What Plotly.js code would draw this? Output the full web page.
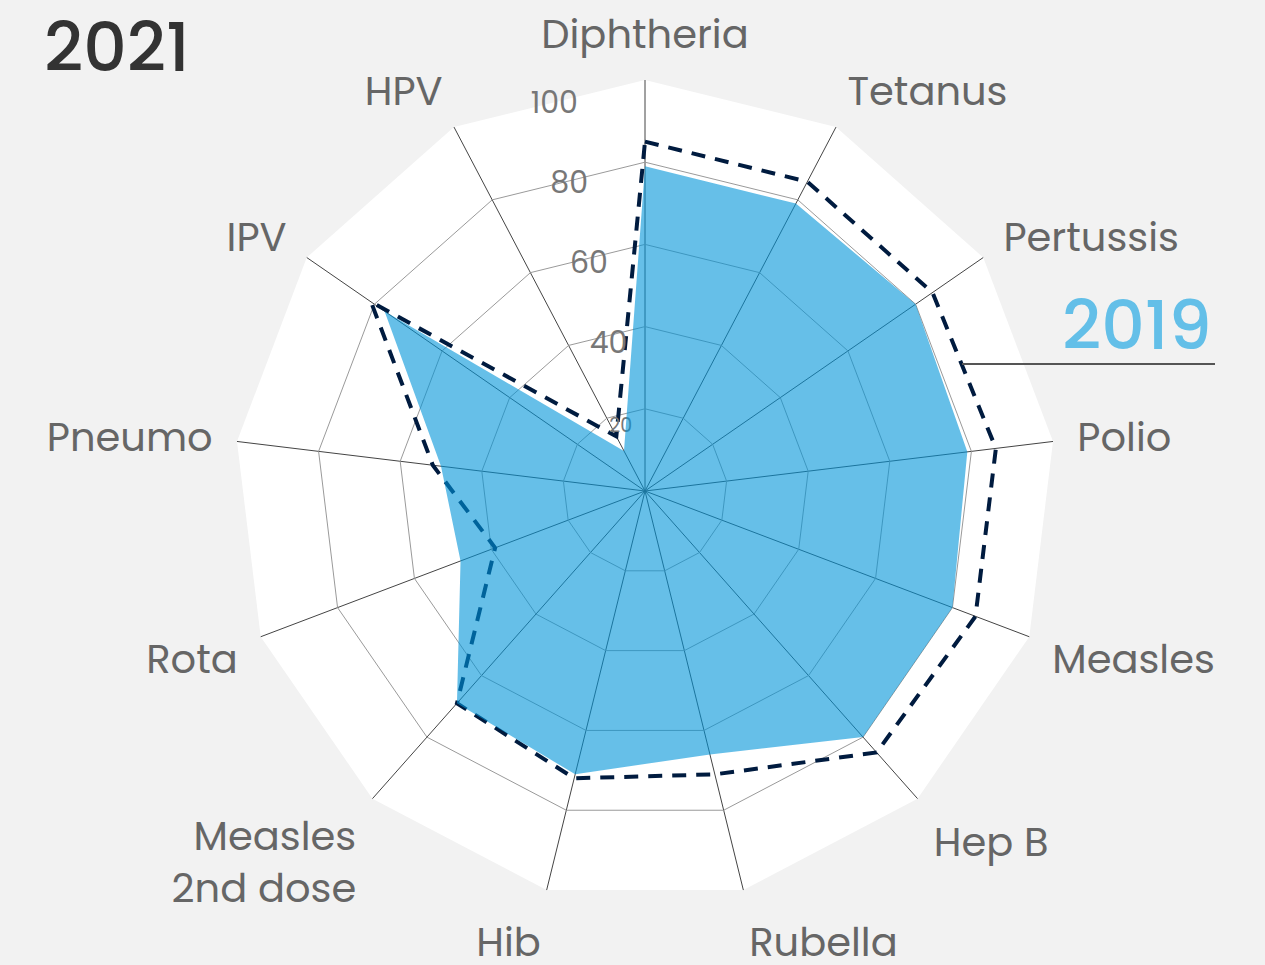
<!DOCTYPE html>
<html>
<head>
<meta charset="utf-8">
<script src="https://cdn.plot.ly/plotly-3.0.1.min.js"></script>
<style>
  html, body { margin: 0; padding: 0; background: #f2f2f2; }
  #chart { width: 1265px; height: 965px; }
</style>
</head>
<body>
<div id="chart"></div>
<script>
// ---- data ----
const categories = ['Diphtheria', 'Tetanus', 'Pertussis', 'Polio', 'Measles', 'Hep B', 'Rubella', 'Hib', 'Measles<br>2nd dose', 'Rota', 'Pneumo', 'IPV', 'HPV'];
const coverage2021 = [79, 79, 80, 79, 80, 80, 66, 71, 69, 48, 50, 77, 11];
const coverage2019 = [85, 85, 85, 86, 86, 85, 71, 72, 69, 39, 52, 81, 15];
const radialTickVals = [20, 40, 60, 80, 100];
const radialTickText = ['<span style="font-size:19px">20</span>', '40', '60', '80', '100'];
const titleText = '2021';
const compareText = '2019';

const FONT = 'Poppins, Inter, "Open Sans", sans-serif';

// closed outline for the dashed comparison series
const theta2019 = categories.concat([categories[0]]);
const r2019 = coverage2019.concat([coverage2019[0]]);

const traces = [
  { // 2019 dashed outline (main polar)
    type: 'scatterpolar', subplot: 'polar',
    r: r2019, theta: theta2019,
    mode: 'lines',
    line: { color: '#001b3f', width: 4, dash: '14px,10px' },
    hoverinfo: 'skip', showlegend: false
  },
  { // carrier for the radial tick-label layer (no visible marks)
    type: 'scatterpolar', subplot: 'polar2',
    r: coverage2021, theta: categories,
    mode: 'markers', marker: { opacity: 0, size: 1 },
    hoverinfo: 'skip', showlegend: false
  },
  { // 2021 filled area (drawn above the labels, like the reference)
    type: 'scatterpolar', subplot: 'polar3',
    r: coverage2021, theta: categories,
    mode: 'lines', fill: 'toself',
    fillcolor: 'rgba(0,148,217,0.6)',
    line: { color: 'rgba(0,0,0,0)', width: 0 },
    hoverinfo: 'skip', showlegend: false
  }
];

const W = 1265, H = 965;
const CX = 645, CY = 491, RAD = 411;
const xDom = (cx) => [(cx - RAD) / W, (cx + RAD) / W];
const yDom = (cy) => [1 - (cy + RAD) / H, 1 - (cy - RAD) / H];
const px2x = (px) => px / W;
const py2y = (py) => 1 - py / H;
const LABEL_DX = -31, LABEL_DY = 10;
const labelAngle = 103.85;

const hiddenAngular = {
  visible: false, showgrid: false, showticklabels: false, showline: false, ticks: '',
  rotation: 90, direction: 'clockwise', categoryarray: categories, categoryorder: 'array'
};

const layout = {
  width: W,
  height: H,
  paper_bgcolor: '#f2f2f2',
  margin: { l: 0, r: 0, t: 0, b: 0, pad: 0 },
  font: { family: FONT, color: '#666' },
  showlegend: false,
  title: {
    text: titleText,
    xref: 'container', yref: 'container',
    x: 44 / W, xanchor: 'left',
    y: 1 - 47 / H, yanchor: 'middle',
    font: { family: FONT, size: 68, color: '#333333', weight: 500 }
  },
  polar: {
    domain: { x: xDom(CX), y: yDom(CY) },
    bgcolor: '#ffffff',
    gridshape: 'linear',
    angularaxis: {
      rotation: 90,
      direction: 'clockwise',
      categoryarray: categories, categoryorder: 'array',
      showline: false,
      ticks: 'outside',
      ticklen: 16,
      tickcolor: 'rgba(0,0,0,0)',
      gridcolor: '#444444',
      gridwidth: 1,
      layer: 'below traces',
      tickfont: { family: FONT, size: 40, color: '#666666' }
    },
    radialaxis: {
      range: [0, 100],
      tickvals: radialTickVals,
      showticklabels: false,
      showline: false,
      ticks: '',
      gridcolor: '#9a9a9a',
      gridwidth: 1,
      layer: 'below traces'
    }
  },
  polar2: {
    domain: { x: xDom(CX + LABEL_DX), y: yDom(CY + LABEL_DY) },
    bgcolor: 'rgba(0,0,0,0)',
    gridshape: 'circular',
    angularaxis: hiddenAngular,
    radialaxis: {
      range: [0, 100],
      angle: labelAngle,
      tickangle: labelAngle,
      tickvals: radialTickVals,
      ticktext: radialTickText,
      showgrid: false,
      showline: false,
      ticks: '',
      layer: 'below traces',
      tickfont: { family: FONT, size: 30, color: '#777777' }
    }
  },
  polar3: {
    domain: { x: xDom(CX), y: yDom(CY) },
    bgcolor: 'rgba(0,0,0,0)',
    gridshape: 'linear',
    angularaxis: hiddenAngular,
    radialaxis: { visible: false, range: [0, 100], showgrid: false, showticklabels: false, showline: false, ticks: '' }
  },
  annotations: [
    {
      text: compareText,
      xref: 'paper', yref: 'paper',
      x: px2x(1214), xanchor: 'right',
      y: py2y(325), yanchor: 'middle',
      showarrow: false,
      font: { family: FONT, size: 68, color: '#63bfe8', weight: 500 }
    }
  ],
  shapes: [
    {
      type: 'line',
      xref: 'paper', yref: 'paper',
      x0: px2x(962), x1: px2x(1215),
      y0: py2y(364), y1: py2y(364),
      line: { color: '#555555', width: 2 }
    }
  ]
};

Plotly.newPlot('chart', traces, layout, { displayModeBar: false, staticPlot: true });
</script>
</body>
</html>
